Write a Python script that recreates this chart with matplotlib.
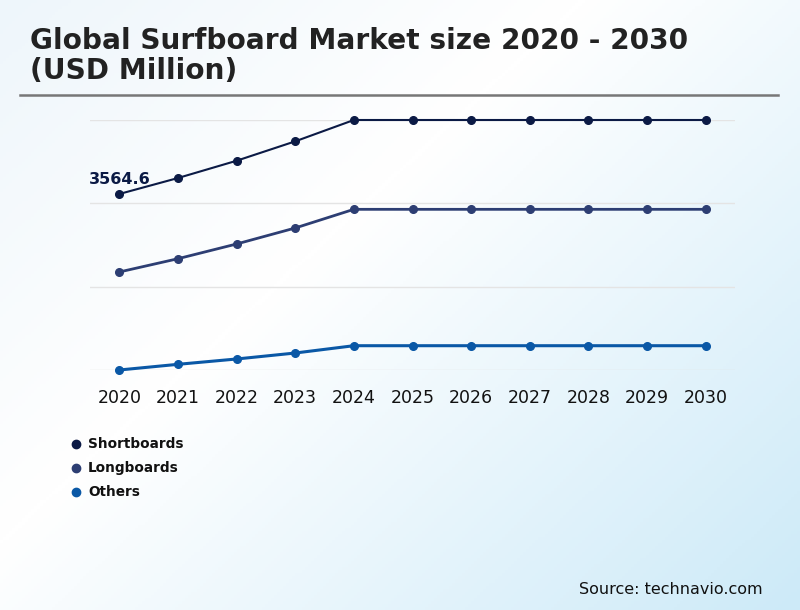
import numpy as np
import matplotlib
matplotlib.use("Agg")
import matplotlib.pyplot as plt
from matplotlib.colors import LinearSegmentedColormap

# data (USD million)
years = ["2020", "2021", "2022", "2023", "2024", "2025",
         "2026", "2027", "2028", "2029", "2030"]
shortboards = [3564.6, 3888, 4238, 4631, 5063, 5063, 5063, 5063, 5063, 5063, 5063]
longboards = [1985, 2254, 2552, 2876, 3254, 3254, 3254, 3254, 3254, 3254, 3254]
others = [0, 115, 223, 344, 492, 492, 492, 492, 492, 492, 492]

series_names = ["Shortboards", "Longboards", "Others"]
colors = ["#0b1a45", "#2d3e73", "#0a58a6"]
widths = [1.5, 2.0, 2.2]

fig = plt.figure(figsize=(8, 6.1), dpi=100)

# background gradient
bg = fig.add_axes([0, 0, 1, 1], zorder=-10)
bg.axis("off")
yy, xx = np.mgrid[0:1:200j, 0:1:260j]
t = (xx * 0.55 + yy * 0.45)
cmap = LinearSegmentedColormap.from_list(
    "bg", [(0, "#eef6fb"), (0.4, "#ffffff"), (1, "#cdeaf8")])
bg.imshow(t, cmap=cmap, aspect="auto", extent=[0, 1, 0, 1], origin="upper")
bg.set_xlim(0, 1)
bg.set_ylim(0, 1)

# title and rule
title_lines = ["Global Surfboard Market size 2020 - 2030", "(USD Million)"]
for i, line in enumerate(title_lines):
    fig.text(30 / 800, 1 - (41 + 30 * i) / 610, line,
             fontsize=20.2, fontweight="bold", color="#222222", va="center")
bg.plot([20 / 800, 778 / 800], [1 - 95 / 610, 1 - 95 / 610], color="#777777", lw=1.8)

ax = fig.add_axes([90 / 800, 1 - 370 / 610, 645 / 800, 250 / 610])
ax.set_facecolor("none")
x = np.arange(len(years))
for vals, name, c, w in zip([shortboards, longboards, others], series_names, colors, widths):
    ax.plot(x, vals, color=c, lw=w, marker="o", ms=5.5, label=name, clip_on=False, zorder=3)

ax.set_xlim(-0.5, len(years) - 0.5)
ax.set_ylim(0, 5063)
ax.set_yticks(np.linspace(0, 5063, 4))
ax.set_yticklabels([])
ax.grid(axis="y", color="#e4e4e4", lw=1)
ax.tick_params(axis="y", length=0)
ax.tick_params(axis="x", length=0, labelsize=12.5, pad=14, labelcolor="#111111")
ax.set_xticks(x)
ax.set_xticklabels(years)
for s in ax.spines.values():
    s.set_visible(False)

ax.annotate("%.1f" % shortboards[0], (x[0], shortboards[0]), xytext=(0, 7),
            textcoords="offset points", ha="center", fontsize=11.5,
            fontweight="bold", color="#0b1a45")

# legend
for i, (name, c) in enumerate(zip(series_names, colors)):
    yp = 1 - (444 + 24 * i) / 610
    bg.plot([76 / 800], [yp], "o", color=c, ms=6)
    fig.text(88 / 800, yp, name, fontsize=9.8, fontweight="bold", color="#111111", va="center")

fig.text(763 / 800, 1 - 589 / 610, "Source: technavio.com", fontsize=11.5,
         color="#111111", ha="right", va="center")

fig.savefig("out.png", dpi=100)
